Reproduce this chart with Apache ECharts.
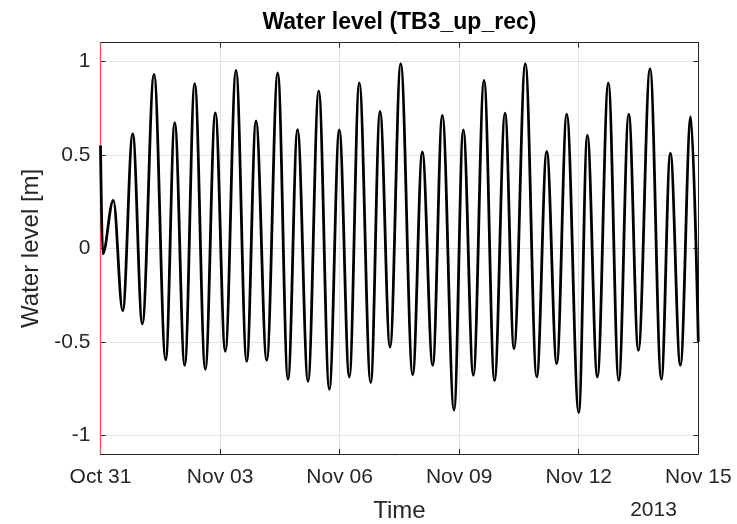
<!DOCTYPE html>
<html>
<head>
<meta charset="utf-8">
<script src="https://cdn.jsdelivr.net/npm/echarts@6/dist/echarts.min.js"></script>
<style>
html,body{margin:0;padding:0;background:#fff;}
#c{width:737px;height:524px;}
</style>
</head>
<body>
<div id="c"></div>
<script>
// Tick labels of the time axis (every 3 days from Oct 31, 2013)
const tickLabels = ['Oct 31', 'Nov 03', 'Nov 06', 'Nov 09', 'Nov 12', 'Nov 15'];
const yearLabel = '2013';
// Time in days since 2013-10-31 00:00
const days = [
  0.000, 0.055, 0.321, 0.557, 0.808, 1.049, 1.343, 1.636, 1.862, 2.113,
  2.364, 2.630, 2.881, 3.132, 3.400, 3.669, 3.902, 4.171, 4.447, 4.705,
  4.944, 5.207, 5.476, 5.742, 5.992, 6.243, 6.494, 6.780, 7.014, 7.265,
  7.533, 7.834, 8.075, 8.336, 8.577, 8.871, 9.104, 9.355, 9.624, 9.887,
  10.151, 10.376, 10.660, 10.946, 11.197, 11.448, 11.699, 12.000, 12.216, 12.467,
  12.743, 13.004, 13.255, 13.496, 13.789, 14.073, 14.299, 14.550, 14.811, 15.000
];
// Water level [m]
const levels = [
  0.55, -0.03, 0.257, -0.333, 0.612, -0.404, 0.931, -0.596, 0.672, -0.626,
  0.881, -0.647, 0.725, -0.551, 0.952, -0.605, 0.682, -0.599, 0.938, -0.700,
  0.635, -0.711, 0.842, -0.754, 0.633, -0.688, 0.885, -0.718, 0.732, -0.528,
  0.988, -0.676, 0.516, -0.626, 0.711, -0.865, 0.633, -0.679, 0.899, -0.708,
  0.723, -0.537, 0.988, -0.688, 0.518, -0.617, 0.718, -0.878, 0.606, -0.688,
  0.885, -0.706, 0.718, -0.546, 0.961, -0.700, 0.509, -0.626, 0.704, -0.500
];
// Red vertical marker at the record start
const markerDays = [0, 0];
const markerLevels = [-1.1, 1.1];

const FONT = "'Liberation Sans', Arial, Helvetica, sans-serif";
const TXT = '#262626';
const GRIDC = '#e3e3e3';

const chart = echarts.init(document.getElementById('c'), null, {renderer: 'canvas'});

function yFmt(v) {
  const r = Math.round(v * 2) / 2;
  if (Math.abs(r - v) > 1e-6) return '';
  return String(r);
}

const xBase = {
  type: 'value', min: 0, max: 15, interval: 3,
  axisLine: {show: true, onZero: false, lineStyle: {color: TXT, width: 1}},
  axisTick: {show: true, inside: true, length: 5, lineStyle: {color: TXT}},
  splitLine: {show: false}
};
const yBase = {
  type: 'value', min: -1.1, max: 1.1, splitNumber: 5,
  axisLine: {show: true, onZero: false, lineStyle: {color: TXT, width: 1}},
  axisTick: {show: true, inside: true, length: 5, lineStyle: {color: TXT}},
  splitLine: {show: false}
};

chart.setOption({
  animation: false,
  backgroundColor: '#ffffff',
  grid: {left: 100.5, right: 38.7, top: 42.7, bottom: 70, containLabel: false, outerBoundsMode: 'none'},
  xAxis: [
    Object.assign({}, xBase, {
      position: 'bottom',
      splitLine: {show: true, lineStyle: {color: GRIDC, width: 1}},
      axisLabel: {
        show: true, margin: 13, color: TXT, fontFamily: FONT, fontSize: 21,
        formatter: v => tickLabels[Math.round(v / 3)] || ''
      },
      name: 'Time', nameLocation: 'middle', nameGap: 45,
      nameTextStyle: {color: TXT, fontFamily: FONT, fontSize: 24}
    }),
    Object.assign({}, xBase, {position: 'top', axisLabel: {show: false}})
  ],
  yAxis: [
    Object.assign({}, yBase, {
      position: 'left',
      splitLine: {show: true, lineStyle: {color: GRIDC, width: 1}},
      axisLabel: {
        show: true, margin: 10, color: TXT, fontFamily: FONT, fontSize: 21,
        formatter: yFmt, showMinLabel: false, showMaxLabel: false
      },
      name: 'Water level [m]', nameLocation: 'middle', nameGap: 54,
      nameTextStyle: {color: TXT, fontFamily: FONT, fontSize: 24}
    }),
    Object.assign({}, yBase, {position: 'right', axisLabel: {show: false}})
  ],
  graphic: [
    {type: 'text', x: 399.4, y: 23, silent: true,
     style: {text: 'Water level (TB3_up_rec)', fill: '#000', font: 'bold 23px ' + FONT,
             textAlign: 'center', textVerticalAlign: 'middle'}},
    {type: 'text', x: 653.5, y: 510, silent: true,
     style: {text: yearLabel, fill: TXT, font: '21px ' + FONT,
             textAlign: 'center', textVerticalAlign: 'middle'}}
  ],
  series: [
    {
      type: 'line', name: 'start', xAxisIndex: 0, yAxisIndex: 0,
      data: markerDays.map((d, i) => [d, markerLevels[i]]),
      symbol: 'none', lineStyle: {color: '#e05a5a', width: 1.3}, z: 2, silent: true
    },
    {
      type: 'line', name: 'TB3_up_rec', xAxisIndex: 0, yAxisIndex: 0,
      data: days.map((d, i) => [d, levels[i]]),
      symbol: 'none', smooth: 0.36, smoothMonotone: 'x', clip: true,
      lineStyle: {color: '#000000', width: 2.8}, z: 3, silent: true
    }
  ]
});
</script>
</body>
</html>
